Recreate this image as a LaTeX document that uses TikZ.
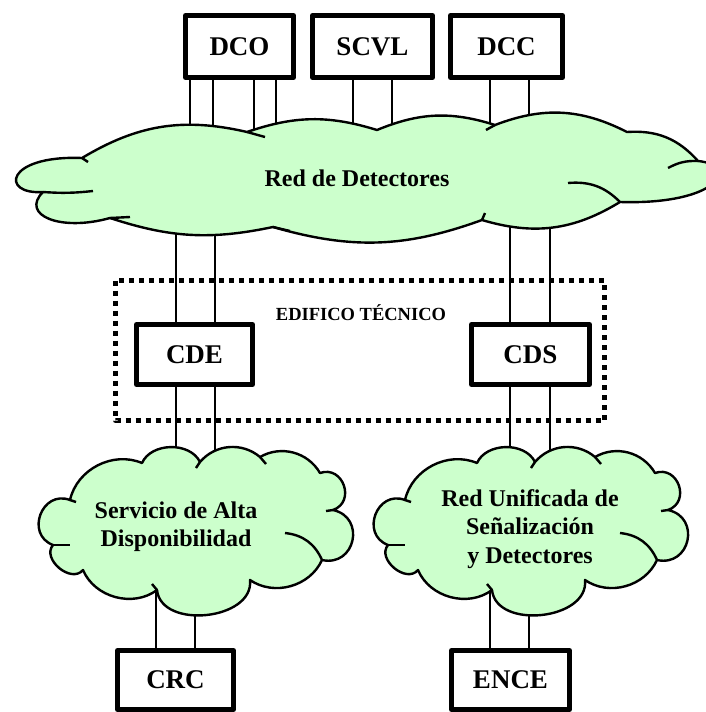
\documentclass[tikz,border=0pt]{standalone}
\usepackage{fontspec}
\setmainfont{Liberation Serif}
\usetikzlibrary{calc,backgrounds}
\definecolor{verdenube}{RGB}{204,255,204}

\begin{document}
\begin{tikzpicture}[x=0.5pt,y=-0.5pt,line join=round,
  caja/.style={draw,line width=2.5pt,fill=white,inner sep=0pt,
    font=\fontsize{13.5}{14}\selectfont\bfseries},
  texto/.style={align=center,inner sep=0pt,font=\fontsize{12}{14.2}\selectfont\bfseries},
  borde/.style={line width=1.2pt},
  enlace/.style={line width=1pt},
  nubepeq/.pic={
    \draw[borde,fill=verdenube] (-125,-30) to[bend left=50] (-53,-67) to[bend left=65] (5,-68)
      to[bend left=45] (65,-73) to[bend left=45] (125,-57)
      to[bend left=90,looseness=1.6] (138,-20) to[bend left=90,looseness=1.7] (127,30)
      to[bend left=50] (55,50) to[bend left=90,looseness=1.1] (-38,60)
      to[bend left=52] (-112,40) to[bend left=90,looseness=1.2] (-142,15)
      to[bend left=90,looseness=1.6] (-125,-30) -- cycle;
    \draw[borde] (90,3) to[bend left=30] (127,30);
    \draw[borde] (-142,15) -- (-125,15);
    \draw[borde] (5,-68) -- (1,-62);
    \draw[borde] (65,-73) -- (71,-66);
    \draw[borde] (138,-20) -- (131,-19);
    \draw[borde] (-38,60) -- (-43,54);
    \draw[borde] (-125,-30) -- (-119,-28);
  }]
  \useasboundingbox (0,0) rectangle (706,712);

  %equipos de arriba
  \node[caja,minimum width=54pt,minimum height=31pt] (DCO) at (239.5,46.5) {DCO};
  \node[caja,minimum width=60pt,minimum height=31pt] (SCVL) at (372.5,46.5) {SCVL};
  \node[caja,minimum width=56pt,minimum height=31pt] (DCC) at (506.5,46.5) {DCC};

  %nube grande
  \draw[borde,fill=verdenube] (82,158) to[bend left=22] (247,132) to[bend left=18] (377,130)
    to[bend left=20] (495,125) to[bend left=24] (627,132) to[bend left=26] (698,161)
    .. controls (740,165) and (720,205) .. (620,202) to[bend left=24] (482,220)
    to[bend left=18] (273,227) to[bend left=15] (110,218)
    .. controls (60,232) and (20,215) .. (43,192)
    .. controls (0,195) and (5,155) .. (82,158) -- cycle;
  \draw[borde] (43,192) to[bend right=5] (93,191);
  \draw[borde] (568,183) to[bend left=25] (620,202);
  \draw[borde] (668,168) to[bend left=15] (698,161);
  \draw[borde] (247,132) -- (265,137);
  \draw[borde] (495,125) -- (486,130);
  \draw[borde] (110,218) -- (130,217);
  \draw[borde] (273,227) -- (290,231);
  \draw[borde] (482,220) -- (485,213);
  \draw[borde] (82,158) -- (88,162);
  \node[texto] (red) at (357,178) {Red de Detectores};

  %nubes de abajo
  \pic at (195,530) {nubepeq};
  \node[texto] (sad) at (176,527) {Servicio de Alta\\Disponibilidad};
  \pic at (530,530) {nubepeq};
  \node[texto] (rus) at (530,529) {Red Unificada de\\Señalización\\y Detectores};

  %edificio tecnico
  \draw[line width=2.5pt,dash pattern=on 2.5pt off 2.5pt] (115.5,280.5) rectangle (604.5,420.5);
  \node[font=\fontsize{9.25}{10}\selectfont\bfseries] (edif) at (361,313) {EDIFICO TÉCNICO};
  \node[caja,minimum width=58pt,minimum height=30pt] (CDE) at (194.5,354.5) {CDE};
  \node[caja,minimum width=59pt,minimum height=30pt] (CDS) at (530.5,354.5) {CDS};

  %equipos de abajo
  \node[caja,minimum width=58pt,minimum height=29.5pt] (CRC) at (175.5,680) {CRC};
  \node[caja,minimum width=59pt,minimum height=29.5pt] (ENCE) at (510.5,680) {ENCE};

  %enlaces
  \foreach \dx [count=\i] in {-49.5,-26.5,14.5,36.5}
    \coordinate (dco\i) at ($(DCO.south)+(\dx,0)$);
  \foreach \dx [count=\i] in {-19.5,19.5}
    \coordinate (scvl\i) at ($(SCVL.south)+(\dx,0)$);
  \foreach \dx [count=\i] in {-16.5,22.5}
    \coordinate (dcc\i) at ($(DCC.south)+(\dx,0)$);
  \foreach \dx [count=\i] in {-18.5,20.5}
    \coordinate (cde\i) at ($(CDE.center)+(\dx,0)$);
  \foreach \dx [count=\i] in {-20.5,19.5}
    \coordinate (cds\i) at ($(CDS.center)+(\dx,0)$);
  \foreach \dx [count=\i] in {-19.5,19.5}
    \coordinate (crc\i) at ($(CRC.north)+(\dx,0)$);
  \foreach \dx [count=\i] in {-20.5,18.5}
    \coordinate (ence\i) at ($(ENCE.north)+(\dx,0)$);

  \begin{pgfonlayer}{background}
    \foreach \c in {dco1,dco2,dco3,dco4,scvl1,scvl2,dcc1,dcc2}
      \draw[enlace] (\c) -- (\c |- red.center);
    \foreach \c in {cde1,cde2}
      \draw[enlace] (\c |- red.center) -- (\c |- sad.center);
    \foreach \c in {cds1,cds2}
      \draw[enlace] (\c |- red.center) -- (\c |- rus.center);
    \foreach \c in {crc1,crc2}
      \draw[enlace] (\c) -- (\c |- sad.center);
    \foreach \c in {ence1,ence2}
      \draw[enlace] (\c) -- (\c |- rus.center);
  \end{pgfonlayer}
\end{tikzpicture}
\end{document}
